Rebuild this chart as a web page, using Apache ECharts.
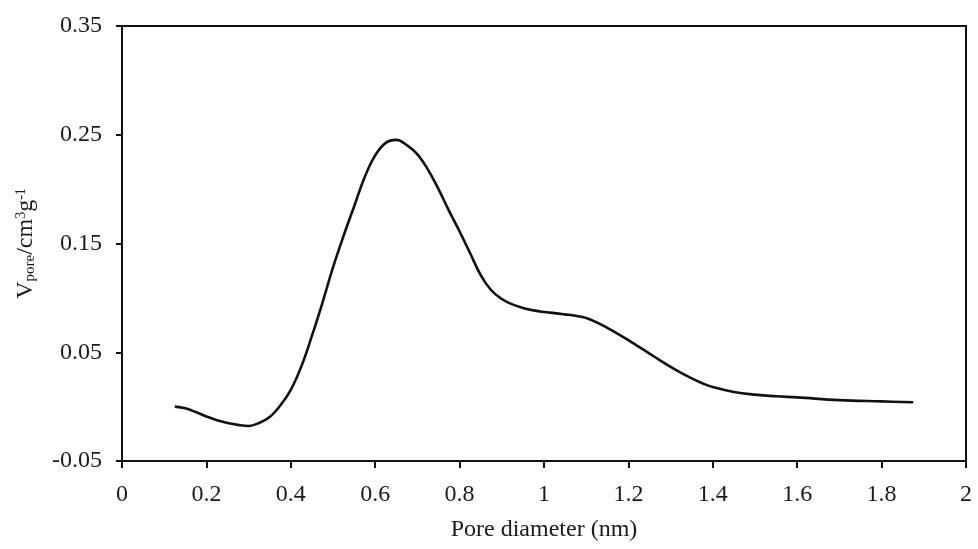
<!DOCTYPE html>
<html>
<head>
<meta charset="utf-8">
<script src="https://cdn.jsdelivr.net/npm/echarts@6/dist/echarts.min.js"></script>
<style>
  html, body { margin: 0; padding: 0; background: #fff; }
  #chart { width: 978px; height: 549px; }
</style>
</head>
<body>
<div id="chart"></div>
<script>
// Pore size distribution curve (pore diameter in nm, pore volume in cm3/g)
const poreDiameter = [0.125, 0.15, 0.175, 0.2, 0.225, 0.25, 0.275, 0.3, 0.325, 0.35,
  0.375, 0.4, 0.425, 0.45, 0.475, 0.5, 0.525, 0.55, 0.575, 0.6,
  0.625, 0.65, 0.675, 0.7, 0.725, 0.75, 0.775, 0.8, 0.825, 0.85,
  0.875, 0.9, 0.925, 0.95, 0.975, 1.0, 1.025, 1.05, 1.075, 1.1,
  1.125, 1.15, 1.175, 1.2, 1.225, 1.25, 1.275, 1.3, 1.325, 1.35,
  1.375, 1.4, 1.45, 1.5, 1.55, 1.6, 1.7, 1.8, 1.875];
const poreVolume = [0.000, -0.0015, -0.005, -0.009, -0.0125, -0.015, -0.0168, -0.0178, -0.015, -0.0095,
  0.001, 0.0155, 0.037, 0.065, 0.0955, 0.128, 0.157, 0.184, 0.211, 0.231,
  0.2425, 0.2453, 0.2405, 0.232, 0.218, 0.200, 0.180, 0.161, 0.141, 0.121,
  0.107, 0.099, 0.094, 0.0908, 0.0885, 0.087, 0.086, 0.0848, 0.0835, 0.0815,
  0.0775, 0.0725, 0.067, 0.0612, 0.055, 0.0488, 0.0425, 0.0365, 0.031, 0.026,
  0.0215, 0.018, 0.0135, 0.011, 0.0095, 0.0085, 0.006, 0.0048, 0.004];
const yTickValues = [-0.05, 0.05, 0.15, 0.25, 0.35];

const fontFamily = '"Liberation Serif", "Times New Roman", serif';
const textColor = '#1a1a1a';

const chart = echarts.init(document.getElementById('chart'));
chart.setOption({
  backgroundColor: '#ffffff',
  animation: false,
  grid: {
    left: 122, right: 12, top: 26, bottom: 88,
    show: true, borderColor: '#111', borderWidth: 2
  },
  xAxis: {
    type: 'value',
    min: 0, max: 2, interval: 0.2,
    name: 'Pore diameter (nm)',
    nameLocation: 'middle',
    nameGap: 57,
    nameTextStyle: { fontFamily, fontSize: 24, color: textColor },
    axisLine: { onZero: false, lineStyle: { color: '#111', width: 2 } },
    axisTick: { inside: false, length: 7, lineStyle: { color: '#111', width: 2 } },
    axisLabel: { fontFamily, fontSize: 24, color: textColor, margin: 22 },
    splitLine: { show: false }
  },
  yAxis: {
    type: 'value',
    min: -0.05, max: 0.35, interval: 0.05,
    name: '{v|V}{sub|pore}{v|/cm}{sup|3}{v|g}{sup|-1}',
    nameLocation: 'middle',
    nameGap: 84,
    nameTextStyle: {
      fontFamily, fontSize: 24, color: textColor,
      rich: {
        v: { fontFamily, fontSize: 24, color: textColor },
        sub: { fontFamily, fontSize: 15, color: textColor, verticalAlign: 'bottom', padding: [9, 0, 0, 0] },
        sup: { fontFamily, fontSize: 14, color: textColor, verticalAlign: 'top', padding: [0, 0, 9, 0] }
      }
    },
    axisLine: { onZero: false, lineStyle: { color: '#111', width: 2 } },
    axisTick: { length: 6, customValues: yTickValues, lineStyle: { color: '#111', width: 2 } },
    axisLabel: { fontFamily, fontSize: 24, color: textColor, margin: 20, customValues: yTickValues },
    splitLine: { show: false }
  },
  series: [{
    type: 'line',
    data: poreDiameter.map((d, i) => [d, poreVolume[i]]),
    smooth: 0.4,
    showSymbol: false,
    lineStyle: { color: '#111', width: 2.6 }
  }]
});
</script>
</body>
</html>
